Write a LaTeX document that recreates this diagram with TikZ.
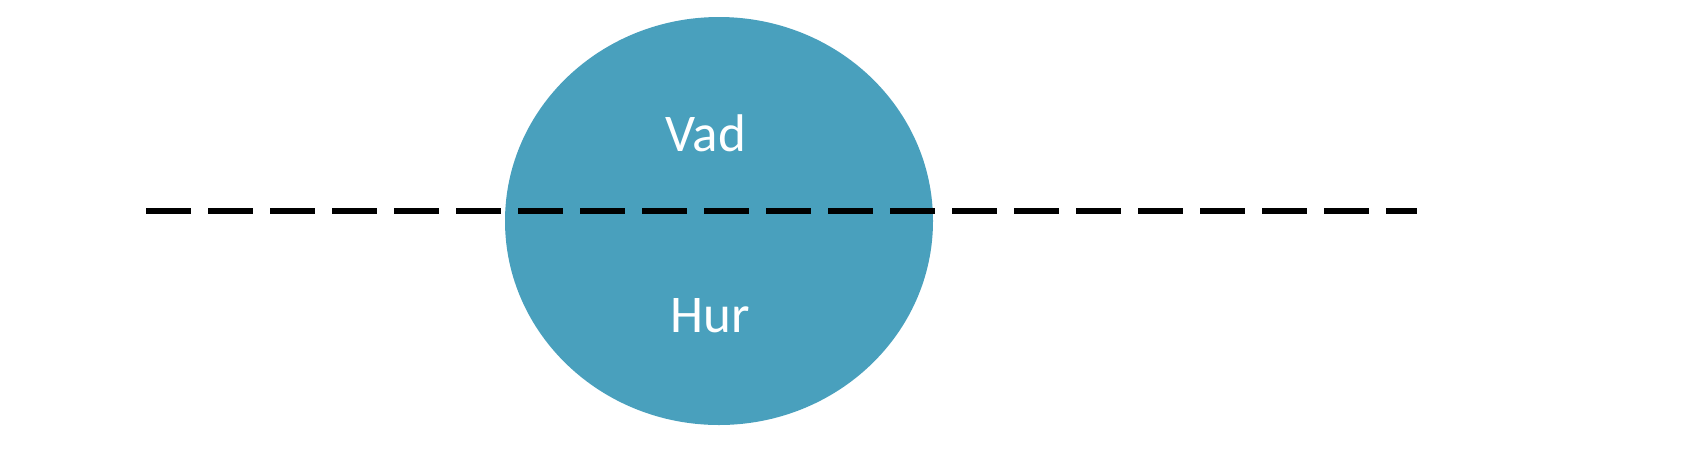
\documentclass[tikz,border=0pt]{standalone}
\usepackage{fontspec}
\setmainfont{Carlito}
\definecolor{blob}{HTML}{49A0BD}
\begin{document}
\begin{tikzpicture}[x=1pt,y=-1pt,
  lbl/.style={text=white,font=\fontsize{53}{60}\selectfont,inner sep=0pt,anchor=base},
  divider/.style={line width=6pt,dash pattern=on 45pt off 17pt}]
\useasboundingbox (0,0) rectangle (1686,456);
\fill[blob] (719,221) ellipse [x radius=214, y radius=204];
\node[lbl] (vad) at (706,151) {Vad};
\node[lbl] (hur) at (710,332) {Hur};
\coordinate (l) at (146,211);
\coordinate (r) at (1417,211);
\draw[divider] (l) -- (r);
\end{tikzpicture}
\end{document}
